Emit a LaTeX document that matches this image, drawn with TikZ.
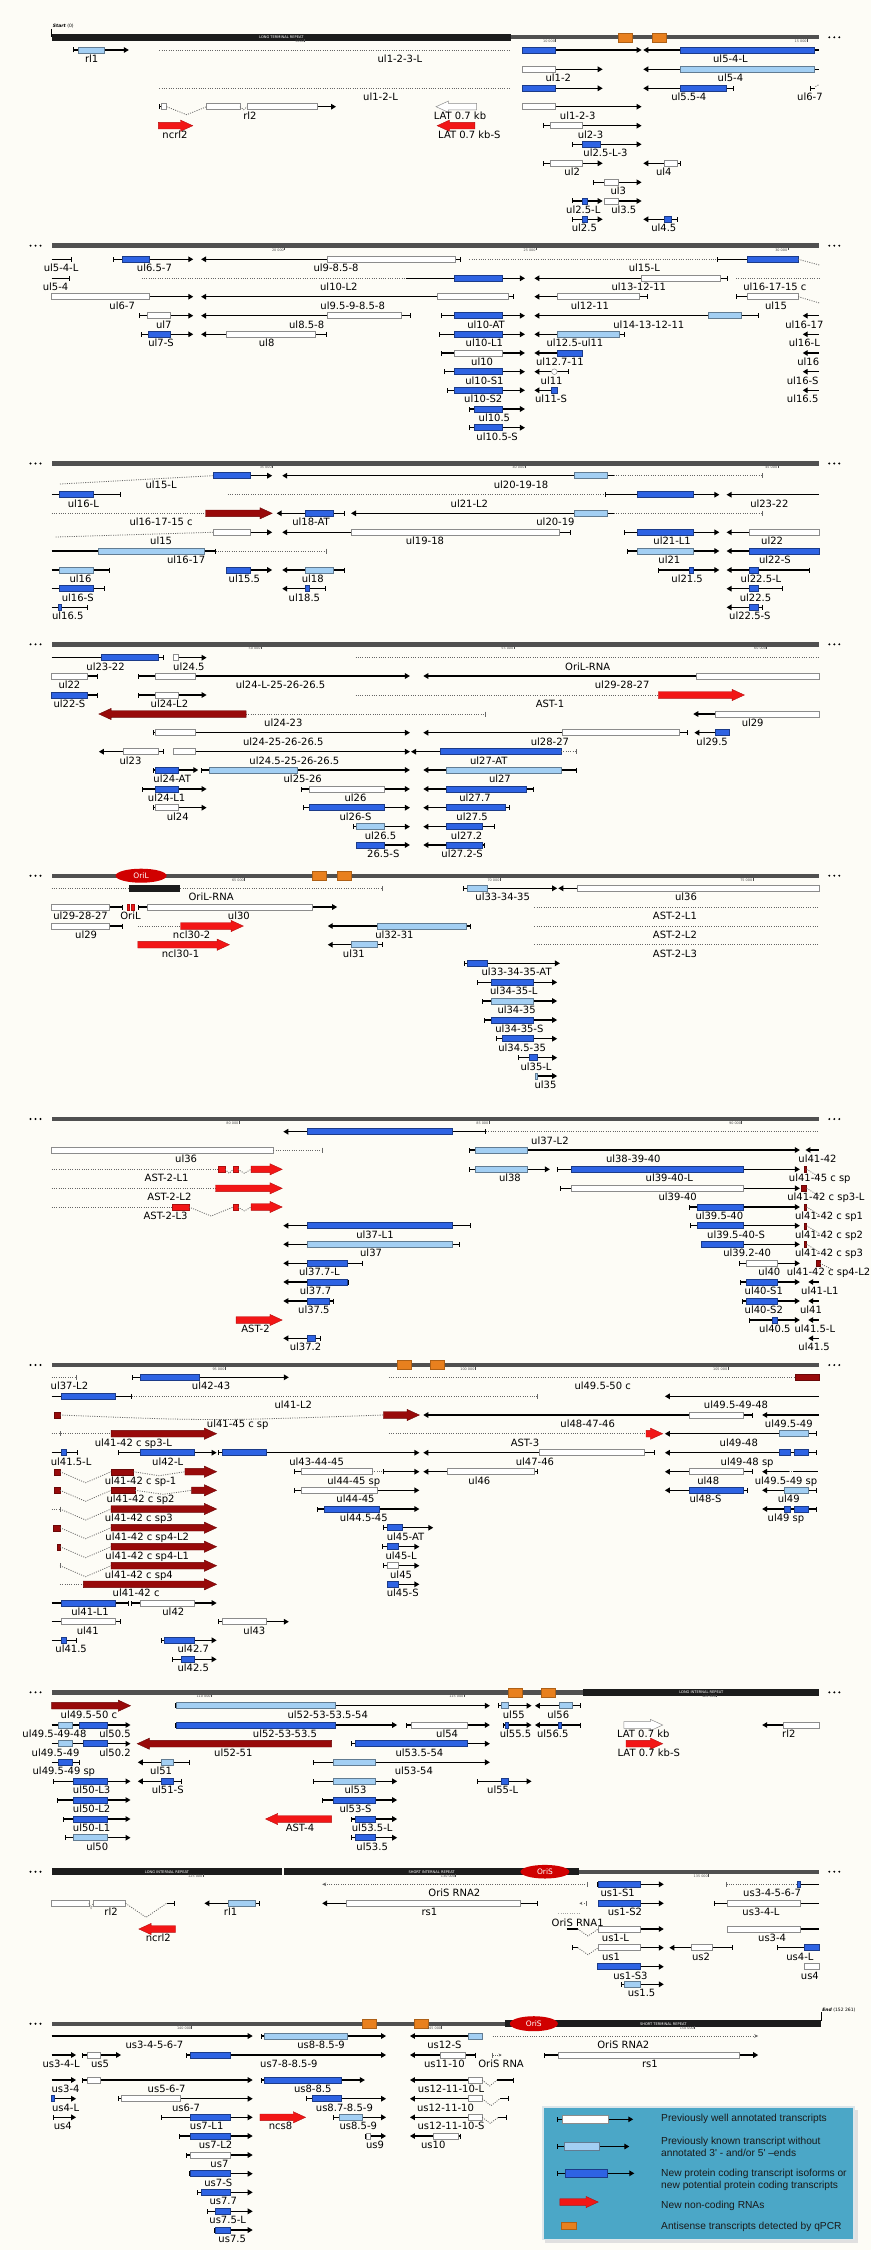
\documentclass[tikz,border=0pt]{standalone}
\usepackage{fontspec}
\setmainfont{DejaVu Sans}
\newfontfamily\legf{Liberation Sans}
\usetikzlibrary{arrows.meta}
\definecolor{bgc}{HTML}{FDFCF6}
\definecolor{gbarc}{HTML}{505050}
\definecolor{rep}{HTML}{1C1C1C}
\definecolor{orng}{HTML}{E8801E}
\definecolor{blu}{HTML}{2E63E3}
\definecolor{lblu}{HTML}{A3CFF3}
\definecolor{redc}{HTML}{F21616}
\definecolor{dred}{HTML}{980A0A}
\definecolor{oric}{HTML}{D00000}
\definecolor{legc}{HTML}{4BA7C7}
\definecolor{legb}{HTML}{DCE6EA}
\tikzset{
 tline/.style={line width=1.3pt,black},
 ar/.style={arrows={Bar[width=5pt,line width=.6pt]-Triangle[length=5pt,width=5.5pt]}},
 arn/.style={arrows={-Triangle[length=5pt,width=5.5pt]}},
 al/.style={arrows={Triangle[length=5pt,width=5.5pt]-Bar[width=5pt,line width=.6pt]}},
 aln/.style={arrows={Triangle[length=5pt,width=5.5pt]-}},
 tb/.style={arrows={-Bar[width=5pt,line width=.6pt]}},
 bt/.style={arrows={Bar[width=5pt,line width=.6pt]-}},
 pl/.style={},
 bw/.style={fill=white,draw=black!45,line width=.5pt},
 bl/.style={fill=lblu,draw=black!40!lblu,line width=.5pt},
 bb/.style={fill=blu,draw=blu!60!black,line width=.5pt},
 bk/.style={fill=rep,draw=rep},
 br/.style={fill=redc,draw=redc!70!black,line width=.3pt},
 bd/.style={fill=dred,draw=dred!70!black,line width=.3pt},
 rda/.style={fill=redc,draw=redc!75!black,line width=.4pt},
 dra/.style={fill=dred,draw=dred!70!black,line width=.4pt},
 wha/.style={fill=white,draw=black!45,line width=.5pt},
 dotl/.style={line width=.8pt,black!60,dash pattern=on 1pt off 1.3pt},
 lab/.style={font=\fontsize{10}{12}\selectfont,anchor=base,inner sep=0pt,text=black},
}
\newcommand\Ln[4]{\draw[tline,#4] (#1,#3) -- (#2,#3);}
\newcommand\Bx[4]{\draw[#1] (#2,#4-3) rectangle (#3,#4+3);}
\newcommand\Bg[4]{\draw[#1] (#2,#4-4) rectangle (#3,#4+4);}
\newcommand\Dt[3]{\draw[dotl] (#1,#3) -- (#2,#3);}
\newcommand\Lb[3]{\node[lab] at (#1,#2+12.5) {#3};}
\newcommand\Lw[3]{\node[lab,anchor=base west] at (#1,#2+12.5) {#3};}
\newcommand\Vv[4]{\draw[dotl] (#1,#3) -- ({(#1+#2)/2},#3+#4) -- (#2,#3);}
\newcommand\Tkk[2]{\draw[black!60,line width=.5pt] (#1,#2-2.5) -- (#1,#2+2.5);}
\newcommand\Ba[4]{\pgfmathsetmacro\hx{#2-22*sign(#2-#1)}\draw[#4] (#1,#3-3.3) -- (\hx,#3-3.3) -- (\hx,#3-5.6) -- (#2,#3) -- (\hx,#3+5.6) -- (\hx,#3+3.3) -- (#1,#3+3.3) -- cycle;}
\newcommand\Gb[3]{\fill[gbarc] (#1,#3-2.2) rectangle (#2,#3+2.2);}
\newcommand\Rp[4]{\fill[rep] (#1,#3-3.3) rectangle (#2,#3+3.3);\node[text=white,font=\fontsize{3.6}{4}\selectfont,inner sep=0pt] at ({(#1+#2)/2},#3) {#4};}
\newcommand\Og[2]{\fill[orng,draw=orng!75!black,line width=.4pt] (#1,#2-4.5) rectangle (#1+25,#2+4.5);}
\newcommand\DL[1]{\foreach \q in {55,64,73}{\fill (\q,#1) circle[radius=1.1pt];}}
\newcommand\DR[1]{\foreach \q in {1493,1502,1511}{\fill (\q,#1) circle[radius=1.1pt];}}
\newcommand\Tk[3]{\draw[line width=.3pt,black!70] (#1,#2+2.2) -- (#1,#2+4.8);\node[font=\fontsize{3.4}{4}\selectfont,anchor=north east,inner sep=.3pt,text=black!70] at (#1,#2+2.3) {#3};}
\newcommand\Ori[5]{\fill[oric] (#1,#2) ellipse[x radius=#3pt,y radius=#4pt];\node[text=white,font=\fontsize{7.5}{8}\selectfont,inner sep=0pt] at (#1,#2) {#5};}
\begin{document}
\begin{tikzpicture}[x=0.55548pt,y=-1pt]
\fill[bgc] (0,0) rectangle (1568,2250);
\useasboundingbox (0,0) rectangle (1568,2250);
% ================= Panel 1
\draw[line width=.4pt] (93,29) -- (93,37);
\node[anchor=west,font=\fontsize{4.5}{5}\selectfont,inner sep=0pt] at (95,26) {\textbf{\textit{Start}} (0)};
\Rp{93}{920}{37.3}{LONG TERMINAL REPEAT}\Gb{920}{1475}{37.3}\Og{1113}{37.3}\Og{1175}{37.3}\DR{37.3}
\Tk{548}{37.3}{5000}\Tk{1000}{37.3}{10 000}\Tk{1453}{37.3}{15 000}
\Ln{132}{232}{50}{ar}\Bx{bl}{140}{188}{50}\Lb{165}{50}{rl1}
\Dt{287}{920}{50}\Ln{940}{1155}{50}{ar}\Bx{bb}{940}{1000}{50}\Lb{720}{50}{ul1-2-3-L}
\Ln{1158}{1475}{50}{aln}\Bx{bb}{1225}{1465}{50}\Lb{1315}{50}{ul5-4-L}
\Ln{940}{1085}{69.3}{ar}\Bx{bw}{940}{1000}{69.3}\Lb{1005}{69.3}{ul1-2}
\Ln{1158}{1475}{69.3}{aln}\Bx{bl}{1225}{1465}{69.3}\Lb{1315}{69.3}{ul5-4}
\Dt{287}{920}{88.3}\Ln{940}{1085}{88.3}{ar}\Bx{bb}{940}{1000}{88.3}\Lb{685}{88.3}{ul1-2-L}
\Ln{1158}{1320}{88.3}{al}\Bx{bb}{1225}{1308}{88.3}\Lb{1240}{88.3}{ul5.5-4}
\Ln{1458}{1468}{88.3}{bt}\draw[dotl] (1468,86.5) -- (1475,84.5);\Lb{1458}{88.3}{ul6-7}
\Ln{287}{300}{106.7}{bt}\Bx{bw}{290}{300}{106.7}\Vv{300}{372}{106.7}{8}\Bx{bw}{372}{432}{106.7}\Vv{432}{445}{106.7}{3}
\Ln{445}{605}{106.7}{arn}\Bx{bw}{445}{572}{106.7}\Lb{450}{106.7}{rl2}
\Ba{858}{785}{106.7}{wha}\Lb{828}{106.7}{LAT 0.7 kb}
\Ln{940}{1155}{106.7}{ar}\Bx{bw}{940}{1000}{106.7}\Lb{1040}{106.7}{ul1-2-3}
\Ba{285}{347}{125.7}{rda}\Lb{315}{125.7}{ncrl2}
\Ba{855}{787}{125.7}{rda}\Lb{845}{125.7}{LAT 0.7 kb-S}
\Ln{978}{1155}{125.7}{ar}\Bx{bw}{990}{1048}{125.7}\Lb{1063}{125.7}{ul2-3}
\Ln{1030}{1155}{144.3}{ar}\Bx{bb}{1048}{1080}{144.3}\Lb{1090}{144.3}{ul2.5-L-3}
\Ln{978}{1085}{163.3}{ar}\Bx{bw}{990}{1048}{163.3}\Lb{1030}{163.3}{ul2}
\Ln{1158}{1225}{163.3}{al}\Bx{bw}{1195}{1220}{163.3}\Lb{1195}{163.3}{ul4}
\Ln{1068}{1155}{182.3}{ar}\Bx{bw}{1088}{1113}{182.3}\Lb{1113}{182.3}{ul3}
\Ln{1030}{1085}{201}{ar}\Bx{bb}{1048}{1058}{201}\Lb{1050}{201}{ul2.5-L}
\Ln{1088}{1155}{201}{arn}\Bx{bw}{1088}{1113}{201}\Lb{1123}{201}{ul3.5}
\Ln{1030}{1085}{219.3}{ar}\Bx{bb}{1048}{1058}{219.3}\Lb{1052}{219.3}{ul2.5}
\Ln{1158}{1220}{219.3}{al}\Bx{bb}{1195}{1208}{219.3}\Lb{1195}{219.3}{ul4.5}
% ================= Panel 2
\Gb{93}{1475}{245.7}\DL{245.7}\DR{245.7}\Tk{512}{245.7}{20 000}\Tk{965}{245.7}{25 000}\Tk{1418}{245.7}{30 000}
\Ln{93}{128}{259.3}{tb}\Lb{110}{259.3}{ul5-4-L}
\Ln{203}{348}{259.3}{ar}\Bx{bb}{220}{268}{259.3}\Lb{278}{259.3}{ul6.5-7}
\Ln{362}{830}{259.3}{al}\Bx{bw}{590}{820}{259.3}\Lb{605}{259.3}{ul9-8.5-8}
\Dt{845}{1290}{259.3}\Ln{1290}{1437}{259.3}{bt}\Bx{bb}{1345}{1437}{259.3}\draw[dotl] (1437,259.3) -- (1475,265);\Lb{1160}{259.3}{ul15-L}
\Ln{93}{125}{278.3}{tb}\Lb{100}{278.3}{ul5-4}
\Dt{255}{730}{278.3}\Ln{730}{945}{278.3}{arn}\Bx{bb}{817}{905}{278.3}\Lb{610}{278.3}{ul10-L2}
\Ln{962}{1310}{278.3}{al}\Bx{bw}{1155}{1297}{278.3}\Lb{1150}{278.3}{ul13-12-11}
\Dt{1325}{1475}{278.3}\Lb{1395}{278.3}{ul16-17-15 c}
\Ln{93}{348}{296.7}{arn}\Bx{bw}{93}{268}{296.7}\Lb{220}{296.7}{ul6-7}
\Ln{362}{925}{296.7}{al}\Bx{bw}{788}{915}{296.7}\Lb{635}{296.7}{ul9.5-9-8.5-8}
\Ln{962}{1165}{296.7}{al}\Bx{bw}{1003}{1150}{296.7}\Lb{1062}{296.7}{ul12-11}
\Ln{1325}{1345}{296.7}{bt}\Bx{bw}{1345}{1437}{296.7}\draw[dotl] (1437,296.7) -- (1475,303);\Lb{1397}{296.7}{ul15}
\Ln{250}{348}{315.7}{ar}\Bx{bw}{265}{307}{315.7}\Lb{295}{315.7}{ul7}
\Ln{362}{740}{315.7}{al}\Bx{bw}{590}{722}{315.7}\Lb{552}{315.7}{ul8.5-8}
\Ln{793}{945}{315.7}{ar}\Bx{bb}{817}{905}{315.7}\Lb{875}{315.7}{ul10-AT}
\Ln{962}{1365}{315.7}{al}\Bx{bl}{1275}{1335}{315.7}\Lb{1168}{315.7}{ul14-13-12-11}
\Ln{1445}{1475}{315.7}{aln}\Lb{1448}{315.7}{ul16-17}
\Ln{253}{348}{334.3}{ar}\Bx{bb}{266}{307}{334.3}\Lb{290}{334.3}{ul7-S}
\Ln{362}{588}{334.3}{al}\Bx{bw}{408}{568}{334.3}\Lb{480}{334.3}{ul8}
\Ln{790}{945}{334.3}{ar}\Bx{bb}{817}{905}{334.3}\Lb{872}{334.3}{ul10-L1}
\Ln{962}{1125}{334.3}{al}\Bx{bl}{1003}{1115}{334.3}\Lb{1035}{334.3}{ul12.5-ul11}
\Ln{1445}{1475}{334.3}{aln}\Lb{1448}{334.3}{ul16-L}
\Ln{793}{945}{353}{ar}\Bx{bw}{817}{905}{353}\Lb{868}{353}{ul10}
\Ln{962}{1048}{353}{aln}\Bx{bb}{1003}{1048}{353}\Lb{1008}{353}{ul12.7-11}
\Ln{1445}{1475}{353}{aln}\Lb{1455}{353}{ul16}
\Ln{800}{945}{371.7}{ar}\Bx{bb}{817}{905}{371.7}\Lb{872}{371.7}{ul10-S1}
\Ln{962}{1023}{371.7}{al}\draw[bw] (998,371.7) circle[radius=2.8pt];\Lb{993}{371.7}{ul11}
\Ln{1445}{1475}{371.7}{aln}\Lb{1445}{371.7}{ul16-S}
\Ln{805}{945}{390.3}{ar}\Bx{bb}{817}{905}{390.3}\Lb{870}{390.3}{ul10-S2}
\Ln{962}{1003}{390.3}{aln}\Bx{bb}{993}{1003}{390.3}\Lb{992}{390.3}{ul11-S}
\Ln{1445}{1475}{390.3}{aln}\Lb{1445}{390.3}{ul16.5}
\Ln{845}{945}{409}{ar}\Bx{bb}{853}{905}{409}\Lb{890}{409}{ul10.5}
\Ln{845}{945}{427.7}{ar}\Bx{bb}{853}{905}{427.7}\Lb{895}{427.7}{ul10.5-S}
% ================= Panel 3
\Gb{93}{1475}{463.5}\DL{463.5}\DR{463.5}\Tk{490}{463.5}{35 000}\Tk{945}{463.5}{40 000}\Tk{1400}{463.5}{45 000}
\draw[dotl] (108,484) -- (383,475.7);\Ln{383}{490}{475.7}{arn}\Bx{bb}{383}{450}{475.7}\Lb{290}{475.7}{ul15-L}
\Ln{508}{1105}{475.7}{aln}\Bx{bl}{1033}{1093}{475.7}\Dt{1105}{1373}{475.7}\Tkk{1373}{475.7}\Lb{938}{475.7}{ul20-19-18}
\Ln{93}{218}{494.7}{tb}\Bx{bb}{107}{168}{494.7}\Lb{150}{494.7}{ul16-L}
\Dt{410}{1090}{494.7}\Ln{1090}{1295}{494.7}{ar}\Bx{bb}{1147}{1248}{494.7}\Lb{845}{494.7}{ul21-L2}
\Ln{1308}{1475}{494.7}{aln}\Lb{1385}{494.7}{ul23-22}
\Dt{93}{370}{513.3}\Ba{370}{490}{513.3}{dra}\Lb{290}{513.3}{ul16-17-15 c}
\Ln{498}{620}{513.3}{al}\Bx{bb}{550}{600}{513.3}\Lb{560}{513.3}{ul18-AT}
\Ln{632}{1105}{513.3}{aln}\Bx{bl}{1033}{1093}{513.3}\Dt{1105}{1373}{513.3}\Tkk{1373}{513.3}\Lb{1000}{513.3}{ul20-19}
\draw[dotl] (100,537) -- (383,532.3);\Ln{383}{490}{532.3}{arn}\Bx{bw}{383}{450}{532.3}\Lb{290}{532.3}{ul15}
\Ln{508}{1028}{532.3}{al}\Bx{bw}{633}{1007}{532.3}\Lb{765}{532.3}{ul19-18}
\Ln{1123}{1295}{532.3}{ar}\Bx{bb}{1147}{1248}{532.3}\Lb{1210}{532.3}{ul21-L1}
\Ln{1308}{1475}{532.3}{aln}\Bx{bw}{1349}{1475}{532.3}\Lb{1390}{532.3}{ul22}
\Ln{93}{388}{551}{tb}\Bx{bl}{177}{368}{551}\Dt{388}{587}{551}\Tkk{587}{551}\Lb{335}{551}{ul16-17}
\Ln{1128}{1295}{551}{ar}\Bx{bl}{1147}{1248}{551}\Lb{1205}{551}{ul21}
\Ln{1308}{1475}{551}{aln}\Bx{bb}{1349}{1475}{551}\Lb{1395}{551}{ul22-S}
\Ln{93}{198}{570}{tb}\Bx{bl}{107}{168}{570}\Lb{145}{570}{ul16}
\Ln{408}{490}{570}{arn}\Bx{bb}{408}{450}{570}\Lb{440}{570}{ul15.5}
\Ln{508}{620}{570}{al}\Bx{bl}{550}{600}{570}\Lb{563}{570}{ul18}
\Ln{1185}{1295}{570}{ar}\Bx{bb}{1240}{1248}{570}\Lb{1237}{570}{ul21.5}
\Ln{1308}{1457}{570}{al}\Bx{bb}{1349}{1365}{570}\Lb{1370}{570}{ul22.5-L}
\Ln{93}{188}{588.7}{tb}\Bx{bb}{107}{168}{588.7}\Lb{140}{588.7}{ul16-S}
\Ln{508}{587}{588.7}{al}\Bx{bb}{550}{557}{588.7}\Lb{548}{588.7}{ul18.5}
\Ln{1308}{1408}{588.7}{al}\Bx{bb}{1349}{1365}{588.7}\Lb{1360}{588.7}{ul22.5}
\Ln{93}{157}{607.3}{tb}\Bx{bb}{105}{110}{607.3}\Lb{122}{607.3}{ul16.5}
\Ln{1308}{1373}{607.3}{al}\Bx{bb}{1349}{1365}{607.3}\Lb{1350}{607.3}{ul22.5-S}
% ================= Panel 4
\Gb{93}{1475}{644.3}\DL{644.3}\DR{644.3}\Tk{470}{644.3}{50 000}\Tk{925}{644.3}{55 000}\Tk{1380}{644.3}{60 000}
\Ln{93}{295}{657.7}{tb}\Bx{bb}{183}{285}{657.7}\Lb{190}{657.7}{ul23-22}
\Ln{311}{372}{657.7}{arn}\Bx{bw}{311}{320}{657.7}\Lb{340}{657.7}{ul24.5}
\Dt{640}{1475}{657.7}\Lb{1058}{657.7}{OriL-RNA}
\Ln{93}{175}{676}{tb}\Bx{bw}{93}{157}{676}\Lb{125}{676}{ul22}
\Ln{248}{738}{676}{ar}\Bx{bw}{280}{352}{676}\Lb{505}{676}{ul24-L-25-26-26.5}
\Ln{762}{1475}{676}{aln}\Bx{bw}{1253}{1475}{676}\Lb{1120}{676}{ul29-28-27}
\Ln{93}{175}{695}{tb}\Bx{bb}{93}{157}{695}\Lb{125}{695}{ul22-S}
\Ln{248}{372}{695}{ar}\Bx{bw}{280}{320}{695}\Lb{305}{695}{ul24-L2}
\Dt{640}{1185}{695}\Ba{1185}{1340}{695}{rda}\Lb{990}{695}{AST-1}
\Dt{443}{873}{714}\Tkk{873}{714}\Ba{443}{178}{714}{dra}\Lb{510}{714}{ul24-23}
\Ln{1248}{1475}{714}{aln}\Bx{bw}{1287}{1475}{714}\Lb{1355}{714}{ul29}
\Ln{275}{738}{732.7}{ar}\Bx{bw}{280}{352}{732.7}\Lb{510}{732.7}{ul24-25-26-26.5}
\Ln{762}{1238}{732.7}{al}\Bx{bw}{1012}{1223}{732.7}\Lb{990}{732.7}{ul28-27}
\Ln{1250}{1313}{732.7}{aln}\Bx{bb}{1287}{1313}{732.7}\Lb{1282}{732.7}{ul29.5}
\Ln{178}{295}{751.7}{al}\Bx{bw}{222}{285}{751.7}\Lb{235}{751.7}{ul23}
\Ln{311}{738}{751.7}{ar}\Bx{bw}{311}{352}{751.7}\Lb{530}{751.7}{ul24.5-25-26-26.5}
\Ln{740}{1010}{751.7}{aln}\Bx{bb}{793}{1010}{751.7}\Dt{1010}{1038}{751.7}\Tkk{1038}{751.7}\Lb{880}{751.7}{ul27-AT}
\Ln{275}{357}{770}{ar}\Bx{bb}{280}{320}{770}\Lb{310}{770}{ul24-AT}
\Ln{362}{738}{770}{ar}\Bx{bl}{377}{535}{770}\Lb{545}{770}{ul25-26}
\Ln{762}{1038}{770}{al}\Bx{bl}{803}{1010}{770}\Lb{900}{770}{ul27}
\Ln{255}{372}{789}{ar}\Bx{bb}{280}{320}{789}\Lb{300}{789}{ul24-L1}
\Ln{542}{738}{789}{ar}\Bx{bw}{557}{692}{789}\Lb{640}{789}{ul26}
\Ln{762}{960}{789}{al}\Bx{bb}{803}{947}{789}\Lb{855}{789}{ul27.7}
\Ln{275}{372}{807.7}{ar}\Bx{bw}{280}{320}{807.7}\Lb{320}{807.7}{ul24}
\Ln{545}{738}{807.7}{ar}\Bx{bb}{557}{692}{807.7}\Lb{640}{807.7}{ul26-S}
\Ln{762}{917}{807.7}{al}\Bx{bb}{803}{910}{807.7}\Lb{850}{807.7}{ul27.5}
\Ln{635}{738}{826.7}{ar}\Bx{bl}{642}{692}{826.7}\Lb{685}{826.7}{ul26.5}
\Ln{762}{890}{826.7}{al}\Bx{bb}{803}{868}{826.7}\Lb{840}{826.7}{ul27.2}
\Ln{642}{738}{845}{ar}\Bx{bb}{642}{692}{845}\Lb{690}{845}{26.5-S}
\Ln{762}{873}{845}{al}\Bx{bb}{803}{868}{845}\Lb{832}{845}{ul27.2-S}
% ================= Panel 5
\Gb{93}{1475}{875.7}\DL{875.7}\DR{875.7}\Og{562}{875.7}\Og{607}{875.7}\Tk{440}{875.7}{65 000}\Tk{900}{875.7}{70 000}\Tk{1355}{875.7}{75 000}
\Ori{254}{875.7}{25.5}{7}{OriL}
\Dt{93}{688}{888.3}\Tkk{688}{888.3}\Bx{bk}{233}{322}{888.3}\Lb{380}{888.3}{OriL-RNA}
\Ln{833}{1003}{888.3}{ar}\Bx{bl}{842}{877}{888.3}\Lb{905}{888.3}{ul33-34-35}
\Ln{1005}{1475}{888.3}{aln}\Bx{bw}{1040}{1475}{888.3}\Lb{1235}{888.3}{ul36}
\Ln{93}{220}{907}{tb}\Bx{bw}{93}{197}{907}\Lb{145}{907}{ul29-28-27}
\Bx{br}{228}{233}{907}\Bx{br}{236}{241}{907}\Lb{235}{907}{OriL}
\Ln{248}{607}{907}{ar}\Bx{bw}{265}{563}{907}\Lb{430}{907}{ul30}
\Dt{962}{1475}{907}\Lb{1215}{907}{AST-2-L1}
\Ln{93}{220}{926}{tb}\Bx{bw}{93}{197}{926}\Lb{155}{926}{ul29}
\Dt{248}{325}{926}\Ba{325}{438}{926}{rda}\Lb{345}{926}{ncl30-2}
\Ln{590}{848}{926}{al}\Bx{bl}{680}{840}{926}\Lb{710}{926}{ul32-31}
\Dt{962}{1475}{926}\Lb{1215}{926}{AST-2-L2}
\Ba{248}{413}{944.7}{rda}\Lb{325}{944.7}{ncl30-1}
\Ln{590}{688}{944.7}{al}\Bx{bl}{632}{680}{944.7}\Lb{637}{944.7}{ul31}
\Dt{962}{1475}{944.7}\Lb{1215}{944.7}{AST-2-L3}
\Ln{835}{1008}{963.3}{ar}\Bx{bb}{842}{877}{963.3}\Lb{930}{963.3}{ul33-34-35-AT}
\Ln{858}{1003}{982.3}{ar}\Bx{bb}{885}{960}{982.3}\Lb{925}{982.3}{ul34-35-L}
\Ln{868}{1003}{1001}{ar}\Bx{bl}{885}{960}{1001}\Lb{930}{1001}{ul34-35}
\Ln{872}{1003}{1020}{ar}\Bx{bb}{885}{960}{1020}\Lb{935}{1020}{ul34-35-S}
\Ln{893}{1003}{1038.7}{ar}\Bx{bb}{905}{960}{1038.7}\Lb{940}{1038.7}{ul34.5-35}
\Ln{932}{1003}{1057.7}{ar}\Bx{bb}{952}{967}{1057.7}\Lb{965}{1057.7}{ul35-L}
\Ln{963}{1003}{1076}{ar}\Bx{bl}{963}{967}{1076}\Lb{982}{1076}{ul35}
% ================= Panel 6
\Gb{93}{1475}{1119}\DL{1119}\DR{1119}\Tk{430}{1119}{80 000}\Tk{880}{1119}{85 000}\Tk{1335}{1119}{90 000}
\Ln{510}{875}{1131.7}{al}\Bx{bb}{553}{815}{1131.7}\Dt{875}{1475}{1131.7}\Lb{990}{1131.7}{ul37-L2}
\Bx{bw}{93}{492}{1150}\Dt{492}{580}{1150}\Tkk{580}{1150}\Lb{335}{1150}{ul36}
\Ln{845}{1440}{1150}{ar}\Bx{bl}{855}{950}{1150}\Lb{1140}{1150}{ul38-39-40}
\Ln{1450}{1475}{1150}{aln}\Lw{1437}{1150}{ul41-42}
\Dt{93}{393}{1169.3}\Bx{br}{393}{405}{1169.3}\Vv{405}{420}{1169.3}{4}\Bx{br}{420}{428}{1169.3}\Vv{428}{452}{1169.3}{4}\Ba{452}{508}{1169.3}{rda}\Lb{300}{1169.3}{AST-2-L1}
\Ln{845}{990}{1169.3}{ar}\Bx{bl}{855}{950}{1169.3}\Lb{918}{1169.3}{ul38}
\Ln{1003}{1440}{1169.3}{ar}\Bx{bb}{1028}{1338}{1169.3}\Lb{1205}{1169.3}{ul39-40-L}
\Bx{bd}{1447}{1452}{1169.3}\draw[dotl] (1452,1169.3) -- (1475,1177);\Lw{1420}{1169.3}{ul41-45 c sp}
\Dt{93}{388}{1188.3}\Ba{388}{508}{1188.3}{rda}\Lb{305}{1188.3}{AST-2-L2}
\Ln{1008}{1440}{1188.3}{ar}\Bx{bw}{1028}{1338}{1188.3}\Lb{1220}{1188.3}{ul39-40}
\Bx{bd}{1443}{1452}{1188.3}\draw[dotl] (1452,1188.3) -- (1475,1196);\Lw{1417}{1188.3}{ul41-42 c sp3-L}
\Dt{93}{310}{1207}\Bx{br}{310}{340}{1207}\Vv{340}{420}{1207}{9}\Bx{br}{420}{428}{1207}\Vv{428}{452}{1207}{4}\Ba{452}{508}{1207}{rda}\Lb{298}{1207}{AST-2-L3}
\Ln{1240}{1440}{1207}{ar}\Bx{bb}{1256}{1338}{1207}\Lb{1295}{1207}{ul39.5-40}
\Bx{bd}{1447}{1452}{1207}\draw[dotl] (1452,1207) -- (1475,1215);\Lw{1431}{1207}{ul41-42 c sp1}
\Ln{510}{848}{1225.7}{al}\Bx{bb}{553}{815}{1225.7}\Lb{675}{1225.7}{ul37-L1}
\Ln{1242}{1440}{1225.7}{ar}\Bx{bb}{1256}{1338}{1225.7}\Lb{1325}{1225.7}{ul39.5-40-S}
\Bx{bd}{1447}{1452}{1225.7}\draw[dotl] (1452,1225.7) -- (1475,1233.5);\Lw{1431}{1225.7}{ul41-42 c sp2}
\Ln{510}{827}{1244.3}{al}\Bx{bl}{553}{815}{1244.3}\Lb{668}{1244.3}{ul37}
\Ln{1262}{1440}{1244.3}{arn}\Bx{bb}{1262}{1338}{1244.3}\Lb{1345}{1244.3}{ul39.2-40}
\Bx{bd}{1447}{1452}{1244.3}\draw[dotl] (1452,1244.3) -- (1475,1252);\Lw{1431}{1244.3}{ul41-42 c sp3}
\Ln{510}{652}{1263.3}{al}\Bx{bb}{553}{625}{1263.3}\Lb{575}{1263.3}{ul37.7-L}
\Ln{1330}{1440}{1263.3}{ar}\Bx{bw}{1343}{1400}{1263.3}\Lb{1385}{1263.3}{ul40}
\Bx{bd}{1469}{1476}{1263.3}\draw[dotl] (1476,1263.3) -- (1500,1270);\Lw{1416}{1263.3}{ul41-42 c sp4-L2}
\Ln{510}{628}{1282}{al}\Bx{bb}{553}{625}{1282}\Lb{568}{1282}{ul37.7}
\Ln{1333}{1440}{1282}{ar}\Bx{bb}{1343}{1400}{1282}\Lb{1375}{1282}{ul40-S1}
\Ln{1455}{1475}{1282}{aln}\Lw{1442}{1282}{ul41-L1}
\Ln{510}{600}{1301}{al}\Bx{bb}{553}{593}{1301}\Lb{565}{1301}{ul37.5}
\Ln{1335}{1440}{1301}{ar}\Bx{bb}{1343}{1400}{1301}\Lb{1375}{1301}{ul40-S2}
\Ln{1455}{1475}{1301}{aln}\Lw{1440}{1301}{ul41}
\Ba{425}{508}{1320}{rda}\Lb{460}{1320}{AST-2}
\Ln{1348}{1440}{1320}{ar}\Bx{bb}{1390}{1400}{1320}\Lb{1395}{1320}{ul40.5}
\Ln{1455}{1475}{1320}{aln}\Lw{1430}{1320}{ul41.5-L}
\Ln{510}{578}{1338.3}{al}\Bx{bb}{553}{568}{1338.3}\Lb{550}{1338.3}{ul37.2}
\Ln{1455}{1475}{1338.3}{aln}\Lw{1437}{1338.3}{ul41.5}
% ================= Panel 7
\Gb{93}{1475}{1365}\DL{1365}\DR{1365}\Og{715}{1365}\Og{775}{1365}\Tk{405}{1365}{95 000}\Tk{855}{1365}{100 000}\Tk{1310}{1365}{105 000}
\Dt{93}{137}{1377.3}\Tkk{137}{1377.3}\Lb{125}{1377.3}{ul37-L2}
\Ln{237}{520}{1377.3}{ar}\Bx{bb}{252}{358}{1377.3}\Lb{380}{1377.3}{ul42-43}
\Dt{700}{1432}{1377.3}\Bx{bd}{1432}{1475}{1377.3}\Lb{1085}{1377.3}{ul49.5-50 c}
\Ln{93}{237}{1396.3}{tb}\Bx{bb}{110}{208}{1396.3}\Dt{237}{968}{1396.3}\Tkk{968}{1396.3}\Lb{528}{1396.3}{ul41-L2}
\Ln{1197}{1475}{1396.3}{aln}\Lb{1325}{1396.3}{ul49.5-49-48}
\Bx{bd}{97}{108}{1415}\draw[dotl] (108,1415) .. controls (380,1421) .. (690,1415);\Ba{690}{755}{1415}{dra}\Lb{428}{1415}{ul41-45 c sp}
\Ln{762}{1355}{1415}{al}\Bx{bw}{1240}{1338}{1415}\Lb{1058}{1415}{ul48-47-46}
\Ln{1372}{1475}{1415}{aln}\Lb{1420}{1415}{ul49.5-49}
\Dt{93}{200}{1433.7}\Tkk{108}{1433.7}\Ba{200}{390}{1433.7}{dra}\Lb{240}{1433.7}{ul41-42 c sp3-L}
\Dt{700}{1163}{1433.7}\Ba{1163}{1193}{1433.7}{rda}\Lb{945}{1433.7}{AST-3}
\Ln{1197}{1470}{1433.7}{al}\Bx{bl}{1403}{1455}{1433.7}\Lb{1330}{1433.7}{ul49-48}
\Ln{93}{140}{1452.7}{tb}\Bx{bb}{110}{120}{1452.7}\Lb{128}{1452.7}{ul41.5-L}
\Ln{213}{390}{1452.7}{ar}\Bx{bb}{252}{350}{1452.7}\Lb{302}{1452.7}{ul42-L}
\Ln{393}{755}{1452.7}{ar}\Bx{bb}{400}{480}{1452.7}\Lb{570}{1452.7}{ul43-44-45}
\Ln{762}{1178}{1452.7}{al}\Bx{bw}{970}{1160}{1452.7}\Lb{963}{1452.7}{ul47-46}
\Ln{1197}{1470}{1452.7}{al}\Bx{bb}{1403}{1422}{1452.7}\Bx{bb}{1430}{1455}{1452.7}\Lb{1345}{1452.7}{ul49-48 sp}
\Bx{bd}{97}{108}{1471.7}\Vv{108}{200}{1471.7}{11}\Bx{bd}{200}{240}{1471.7}\Vv{240}{333}{1471.7}{4}\Ba{333}{390}{1471.7}{dra}\Lb{253}{1471.7}{ul41-42 c sp-1}
\Ln{530}{670}{1471.7}{bt}\Bx{bw}{542}{670}{1471.7}\Dt{670}{690}{1471.7}\Ln{690}{755}{1471.7}{ar}\Lb{637}{1471.7}{ul44-45 sp}
\Ln{762}{968}{1471.7}{al}\Bx{bw}{805}{962}{1471.7}\Lb{863}{1471.7}{ul46}
\Ln{1197}{1355}{1471.7}{al}\Bx{bw}{1240}{1338}{1471.7}\Lb{1275}{1471.7}{ul48}
\Ln{1372}{1420}{1471.7}{aln}\Dt{1420}{1428}{1471.7}\Ln{1428}{1473}{1471.7}{pl}\Lb{1415}{1471.7}{ul49.5-49 sp}
\Bx{bd}{97}{108}{1490.3}\Vv{108}{200}{1490.3}{11}\Bx{bd}{200}{243}{1490.3}\Vv{243}{345}{1490.3}{4}\Ba{345}{390}{1490.3}{dra}\Lb{253}{1490.3}{ul41-42 c sp2}
\Ln{530}{755}{1490.3}{ar}\Bx{bw}{542}{680}{1490.3}\Lb{640}{1490.3}{ul44-45}
\Ln{1197}{1345}{1490.3}{al}\Bx{bb}{1240}{1338}{1490.3}\Lb{1270}{1490.3}{ul48-S}
\Ln{1372}{1470}{1490.3}{al}\Bx{bl}{1412}{1455}{1490.3}\Lb{1420}{1490.3}{ul49}
\Dt{93}{108}{1509}\Tkk{108}{1509}\Vv{108}{200}{1509}{11}\Ba{200}{390}{1509}{dra}\Lb{250}{1509}{ul41-42 c sp3}
\Ln{570}{755}{1509}{ar}\Bx{bb}{583}{682}{1509}\Lb{655}{1509}{ul44.5-45}
\Ln{1372}{1470}{1509}{al}\Bx{bb}{1412}{1422}{1509}\Bx{bb}{1430}{1455}{1509}\Lb{1415}{1509}{ul49 sp}
\Bx{bd}{95}{108}{1527.7}\Vv{108}{200}{1527.7}{11}\Ba{200}{390}{1527.7}{dra}\Lb{265}{1527.7}{ul41-42 c sp4-L2}
\Ln{690}{780}{1527.7}{ar}\Bx{bb}{697}{725}{1527.7}\Lb{730}{1527.7}{ul45-AT}
\Bx{bd}{103}{108}{1546.7}\Vv{108}{200}{1546.7}{11}\Ba{200}{390}{1546.7}{dra}\Lb{265}{1546.7}{ul41-42 c sp4-L1}
\Ln{688}{755}{1546.7}{ar}\Bx{bb}{697}{717}{1546.7}\Lb{722}{1546.7}{ul45-L}
\Tkk{108}{1565.7}\Vv{108}{200}{1565.7}{11}\Ba{200}{390}{1565.7}{dra}\Lb{250}{1565.7}{ul41-42 c sp4}
\Ln{690}{755}{1565.7}{ar}\Bx{bw}{697}{717}{1565.7}\Lb{722}{1565.7}{ul45}
\Dt{108}{150}{1584.3}\Ba{150}{390}{1584.3}{dra}\Lb{245}{1584.3}{ul41-42 c}
\Ln{697}{755}{1584.3}{arn}\Bx{bb}{697}{717}{1584.3}\Lb{725}{1584.3}{ul45-S}
\Ln{93}{232}{1603}{tb}\Bx{bb}{110}{208}{1603}\Lb{162}{1603}{ul41-L1}
\Ln{235}{390}{1603}{ar}\Bx{bw}{252}{350}{1603}\Lb{312}{1603}{ul42}
\Ln{93}{218}{1621.7}{tb}\Bx{bw}{110}{208}{1621.7}\Lb{158}{1621.7}{ul41}
\Ln{392}{520}{1621.7}{ar}\Bx{bw}{400}{480}{1621.7}\Lb{458}{1621.7}{ul43}
\Ln{93}{138}{1640.3}{tb}\Bx{bb}{110}{120}{1640.3}\Lb{128}{1640.3}{ul41.5}
\Ln{290}{390}{1640.3}{ar}\Bx{bb}{295}{350}{1640.3}\Lb{348}{1640.3}{ul42.7}
\Ln{310}{390}{1659.3}{ar}\Bx{bb}{327}{350}{1659.3}\Lb{348}{1659.3}{ul42.5}
% ================= Panel 8
\Gb{93}{1050}{1692.3}\Rp{1050}{1475}{1692.3}{LONG INTERNAL REPEAT}\DL{1692.3}\DR{1692.3}\Og{915}{1692.3}\Og{975}{1692.3}
\Tk{380}{1692.3}{110 000}\Tk{835}{1692.3}{115 000}\Tk{1290}{1692.3}{120 000}
\Ba{93}{235}{1705.7}{dra}\Lb{160}{1705.7}{ul49.5-50 c}
\Ln{315}{882}{1705.7}{ar}\Bx{bl}{318}{603}{1705.7}\Lb{590}{1705.7}{ul52-53-53.5-54}
\Ln{897}{957}{1705.7}{ar}\Bx{bl}{902}{915}{1705.7}\Lb{925}{1705.7}{ul55}
\Ln{963}{1045}{1705.7}{al}\Bx{bl}{1007}{1030}{1705.7}\Lb{1005}{1705.7}{ul56}
\Ln{93}{235}{1725}{arn}\Bx{bl}{105}{130}{1725}\Bx{bb}{143}{193}{1725}\Lb{98}{1725}{ul49.5-49-48}\Lb{207}{1725}{ul50.5}
\Ln{315}{715}{1725}{ar}\Bx{bb}{318}{603}{1725}\Lb{513}{1725}{ul52-53-53.5}
\Ln{730}{882}{1725}{ar}\Bx{bw}{740}{842}{1725}\Lb{805}{1725}{ul54}
\Ln{905}{957}{1725}{ar}\Bx{bb}{910}{915}{1725}\Lb{928}{1725}{ul55.5}
\Ln{963}{1045}{1725}{al}\Bx{bb}{1005}{1010}{1725}\Lb{995}{1725}{ul56.5}
\Ba{1123}{1193}{1725}{wha}\Lb{1158}{1725}{LAT 0.7 kb}
\Ln{1372}{1475}{1725}{aln}\Bx{bw}{1410}{1475}{1725}\Lb{1420}{1725}{rl2}
\Ln{93}{235}{1743.7}{arn}\Bx{bl}{105}{130}{1743.7}\Bx{bb}{150}{193}{1743.7}\Lb{100}{1743.7}{ul49.5-49}\Lb{207}{1743.7}{ul50.2}
\Ba{597}{247}{1743.7}{dra}\Lb{420}{1743.7}{ul52-51}
\Ln{632}{882}{1743.7}{ar}\Bx{bb}{640}{842}{1743.7}\Lb{755}{1743.7}{ul53.5-54}
\Ba{1127}{1193}{1743.7}{rda}\Lb{1168}{1743.7}{LAT 0.7 kb-S}
\Ln{93}{143}{1762.3}{tb}\Bx{bb}{105}{130}{1762.3}\Lb{115}{1762.3}{ul49.5-49 sp}
\Ln{248}{342}{1762.3}{al}\Bx{bl}{290}{312}{1762.3}\Lb{290}{1762.3}{ul51}
\Ln{563}{882}{1762.3}{ar}\Bx{bl}{600}{675}{1762.3}\Lb{745}{1762.3}{ul53-54}
\Ln{95}{235}{1781.3}{ar}\Bx{bb}{132}{193}{1781.3}\Lb{165}{1781.3}{ul50-L3}
\Ln{248}{327}{1781.3}{al}\Bx{bb}{290}{312}{1781.3}\Lb{302}{1781.3}{ul51-S}
\Ln{563}{715}{1781.3}{ar}\Bx{bl}{600}{675}{1781.3}\Lb{640}{1781.3}{ul53}
\Ln{858}{957}{1781.3}{ar}\Bx{bb}{902}{915}{1781.3}\Lb{905}{1781.3}{ul55-L}
\Ln{103}{235}{1800}{ar}\Bx{bb}{132}{193}{1800}\Lb{165}{1800}{ul50-L2}
\Ln{580}{715}{1800}{ar}\Bx{bb}{600}{675}{1800}\Lb{640}{1800}{ul53-S}
\Ln{113}{235}{1819}{ar}\Bx{bb}{132}{193}{1819}\Lb{165}{1819}{ul50-L1}
\Ba{597}{478}{1819}{rda}\Lb{540}{1819}{AST-4}
\Ln{632}{715}{1819}{ar}\Bx{bb}{640}{675}{1819}\Lb{670}{1819}{ul53.5-L}
\Ln{117}{235}{1837.7}{ar}\Bx{bl}{132}{193}{1837.7}\Lb{175}{1837.7}{ul50}
\Ln{632}{715}{1837.7}{ar}\Bx{bb}{640}{675}{1837.7}\Lb{670}{1837.7}{ul53.5}
% ================= Panel 9
\Rp{93}{508}{1871.7}{LONG INTERNAL REPEAT}\Rp{512}{1042}{1871.7}{SHORT INTERNAL REPEAT}\Gb{1042}{1475}{1871.7}\DL{1871.7}\DR{1871.7}
\Tk{365}{1871.7}{125 000}\Tk{820}{1871.7}{130 000}\Tk{1275}{1871.7}{135 000}
\Ori{981}{1871.7}{24.5}{6.8}{OriS}
\draw[dotl,-{Stealth[length=4pt,width=3.5pt]}] (1058,1884.3) -- (580,1884.3);\Tkk{1058}{1884.3}\Lb{818}{1884.3}{OriS RNA2}
\Ln{1075}{1195}{1884.3}{ar}\Bx{bb}{1077}{1152}{1884.3}\Lb{1112}{1884.3}{us1-S1}
\Dt{1308}{1437}{1884.3}\Tkk{1308}{1884.3}\Ln{1437}{1475}{1884.3}{pl}\Bx{bb}{1436}{1440}{1884.3}\Lb{1390}{1884.3}{us3-4-5-6-7}
\Bx{bw}{93}{160}{1903.3}\Vv{160}{168}{1903.3}{5}\Bx{bw}{168}{226}{1903.3}\Vv{226}{300}{1903.3}{14}\Ln{300}{315}{1903.3}{tb}\Lb{200}{1903.3}{rl2}
\Ln{368}{468}{1903.3}{al}\Bx{bl}{410}{460}{1903.3}\Lb{415}{1903.3}{rl1}
\Ln{580}{967}{1903.3}{al}\Bx{bw}{623}{937}{1903.3}\Lb{773}{1903.3}{rs1}
\draw[dotl,{Stealth[length=3pt,width=3pt]}-] (1043,1903.3) -- (1052,1903.3);\Tkk{1055}{1903.3}
\Ln{1077}{1195}{1903.3}{arn}\Bx{bb}{1077}{1152}{1903.3}\Lb{1125}{1903.3}{us1-S2}
\Ln{1285}{1475}{1903.3}{bt}\Bx{bw}{1310}{1440}{1903.3}\Lb{1370}{1903.3}{us3-4-L}
\draw[dotl,black!35] (1005,1913) -- (1045,1913);\node[lab] at (1040,1926.5) {OriS RNA1};
\Ba{316}{250}{1929}{rda}\Lb{285}{1929}{ncrl2}
\Ln{1020}{1040}{1929}{pl}\Vv{1040}{1077}{1929}{7}\Ln{1077}{1195}{1929}{arn}\Bx{bw}{1077}{1152}{1929}\Lb{1108}{1929}{us1-L}
\Ln{1308}{1475}{1929}{bt}\Bx{bw}{1310}{1440}{1929}\Lb{1390}{1929}{us3-4}
\Ln{1030}{1040}{1947.7}{bt}\Vv{1040}{1077}{1947.7}{7}\Ln{1077}{1195}{1947.7}{arn}\Bx{bw}{1077}{1152}{1947.7}\Lb{1100}{1947.7}{us1}
\Ln{1205}{1318}{1947.7}{al}\Bx{bw}{1245}{1283}{1947.7}\Lb{1262}{1947.7}{us2}
\Ln{1398}{1475}{1947.7}{bt}\Bx{bb}{1448}{1475}{1947.7}\Lb{1440}{1947.7}{us4-L}
\Ln{1075}{1195}{1966.7}{arn}\Bx{bb}{1075}{1152}{1966.7}\Lb{1135}{1966.7}{us1-S3}
\Bx{bw}{1448}{1475}{1966.7}\Lb{1458}{1966.7}{us4}
\Ln{1118}{1195}{1984.3}{ar}\Bx{bl}{1123}{1152}{1984.3}\Lb{1155}{1984.3}{us1.5}
% ================= Panel 10
\Gb{93}{910}{2023.7}\Rp{910}{1478}{2023.7}{SHORT TERMINAL REPEAT}\DL{2023.7}\Og{652}{2023.7}\Og{745}{2023.7}
\Tk{345}{2023.7}{140 000}\Tk{795}{2023.7}{145 000}\Tk{1250}{2023.7}{150 000}
\Ori{961}{2023.7}{24}{7.5}{OriS}
\draw[line width=.4pt] (1478,2020.5) -- (1478,2012);
\node[anchor=west,font=\fontsize{4.5}{5}\selectfont,inner sep=0pt] at (1480,2010) {\textbf{\textit{End}} (152 261)};
\Ln{93}{455}{2036}{arn}\Lb{278}{2036}{us3-4-5-6-7}
\Ln{470}{695}{2036}{ar}\Bx{bl}{475}{625}{2036}\Lb{578}{2036}{us8-8.5-9}
\Ln{738}{868}{2036}{aln}\Bx{bl}{843}{868}{2036}\Lb{800}{2036}{us12-S}
\draw[dotl,-{Stealth[length=4pt,width=3.5pt]}] (887,2036) -- (1365,2036);\Lb{1122}{2036}{OriS RNA2}
\Ln{93}{137}{2055}{arn}\Lb{110}{2055}{us3-4-L}
\Ln{148}{218}{2055}{ar}\Bx{bw}{157}{180}{2055}\Lb{180}{2055}{us5}
\Ln{335}{695}{2055}{ar}\Bx{bb}{343}{415}{2055}\Lb{520}{2055}{us7-8-8.5-9}
\Ln{738}{857}{2055}{al}\Bx{bw}{793}{837}{2055}\Lb{800}{2055}{us11-10}
\draw[dotl,-{Stealth[length=3pt,width=3pt]}] (887,2055) -- (903,2055);\Tkk{887}{2055}\Lb{902}{2055}{OriS RNA}
\Ln{980}{1365}{2055}{ar}\Bx{bw}{1005}{1330}{2055}\Lb{1170}{2055}{rs1}
\Ln{93}{137}{2080}{arn}\Lb{118}{2080}{us3-4}
\Ln{148}{455}{2080}{ar}\Bx{bw}{157}{180}{2080}\Lb{300}{2080}{us5-6-7}
\Ln{470}{657}{2080}{ar}\Bx{bb}{475}{615}{2080}\Lb{563}{2080}{us8-8.5}
\Ln{738}{868}{2080}{aln}\Bx{bw}{843}{868}{2080}\Vv{868}{895}{2080}{6}\Ln{895}{925}{2080}{tb}\Lb{812}{2080}{us12-11-10-L}
\Ln{93}{137}{2098.7}{arn}\Bx{bb}{93}{97}{2098.7}\Lb{118}{2098.7}{us4-L}
\Ln{213}{455}{2098.7}{ar}\Bx{bw}{218}{325}{2098.7}\Lb{335}{2098.7}{us6-7}
\Ln{550}{695}{2098.7}{ar}\Bx{bb}{563}{615}{2098.7}\Lb{620}{2098.7}{us8.7-8.5-9}
\Ln{738}{868}{2098.7}{aln}\Bx{bw}{843}{868}{2098.7}\Vv{868}{900}{2098.7}{7}\Ln{900}{915}{2098.7}{tb}\Lb{802}{2098.7}{us12-11-10}
\Ln{95}{137}{2117.3}{ar}\Lb{113}{2117.3}{us4}
\Ln{290}{455}{2117.3}{ar}\Bx{bb}{343}{415}{2117.3}\Lb{372}{2117.3}{us7-L1}
\Ba{468}{550}{2117.3}{rda}\Lb{505}{2117.3}{ncs8}
\Ln{600}{695}{2117.3}{ar}\Bx{bl}{610}{653}{2117.3}\Lb{645}{2117.3}{us8.5-9}
\Ln{738}{868}{2117.3}{aln}\Bx{bw}{843}{868}{2117.3}\Vv{868}{897}{2117.3}{6}\Ln{897}{912}{2117.3}{tb}\Lb{812}{2117.3}{us12-11-10-S}
\Ln{322}{455}{2136}{ar}\Bx{bb}{343}{415}{2136}\Lb{388}{2136}{us7-L2}
\Ln{657}{695}{2136}{ar}\Bx{bw}{660}{667}{2136}\Lb{675}{2136}{us9}
\Ln{738}{830}{2136}{al}\Bx{bw}{780}{825}{2136}\Lb{780}{2136}{us10}
\Ln{335}{455}{2155}{ar}\Bx{bw}{343}{415}{2155}\Lb{395}{2155}{us7}
\Ln{340}{455}{2173.7}{ar}\Bx{bb}{343}{415}{2173.7}\Lb{393}{2173.7}{us7-S}
\Ln{355}{455}{2192.3}{ar}\Bx{bb}{363}{415}{2192.3}\Lb{402}{2192.3}{us7.7}
\Ln{373}{455}{2211.3}{ar}\Bx{bb}{388}{415}{2211.3}\Lb{410}{2211.3}{us7.5-L}
\Ln{385}{455}{2230}{ar}\Bx{bb}{388}{415}{2230}\Lb{418}{2230}{us7.5}
% ================= Legend
\fill[black!12] (981,2109.7) rectangle (1544,2242.5);
\draw[fill=legc,draw=legb,line width=1.8pt] (977,2106.7) rectangle (1538,2239.5);
\tikzset{legt/.style={anchor=west,inner sep=0pt,text=black!90,font=\legf\fontsize{10.2}{11.8}\selectfont,align=left}}
\Ln{1003}{1140}{2119.3}{ar}\Bg{bw}{1013}{1095}{2119.3}\node[legt] at (1190,2119.3) {Previously well annotated transcripts};
\Ln{1003}{1133}{2146.5}{ar}\Bg{bl}{1016}{1078}{2146.5}\node[legt] at (1190,2146.5) {Previously known transcript without\\annotated 3' - and/or 5' –ends};
\Ln{1003}{1142}{2173.3}{ar}\Bg{bb}{1017}{1094}{2173.3}\node[legt] at (1190,2179.5) {New protein coding transcript isoforms or\\new potential protein coding transcripts};
\Ba{1008}{1077}{2202}{rda}\node[legt] at (1190,2206) {New non-coding RNAs};
\fill[orng,draw=orng!75!black,line width=.4pt] (1011,2221.7) rectangle (1038,2229.3);\node[legt] at (1190,2226.7) {Antisense transcripts detected by qPCR};
\end{tikzpicture}
\end{document}
